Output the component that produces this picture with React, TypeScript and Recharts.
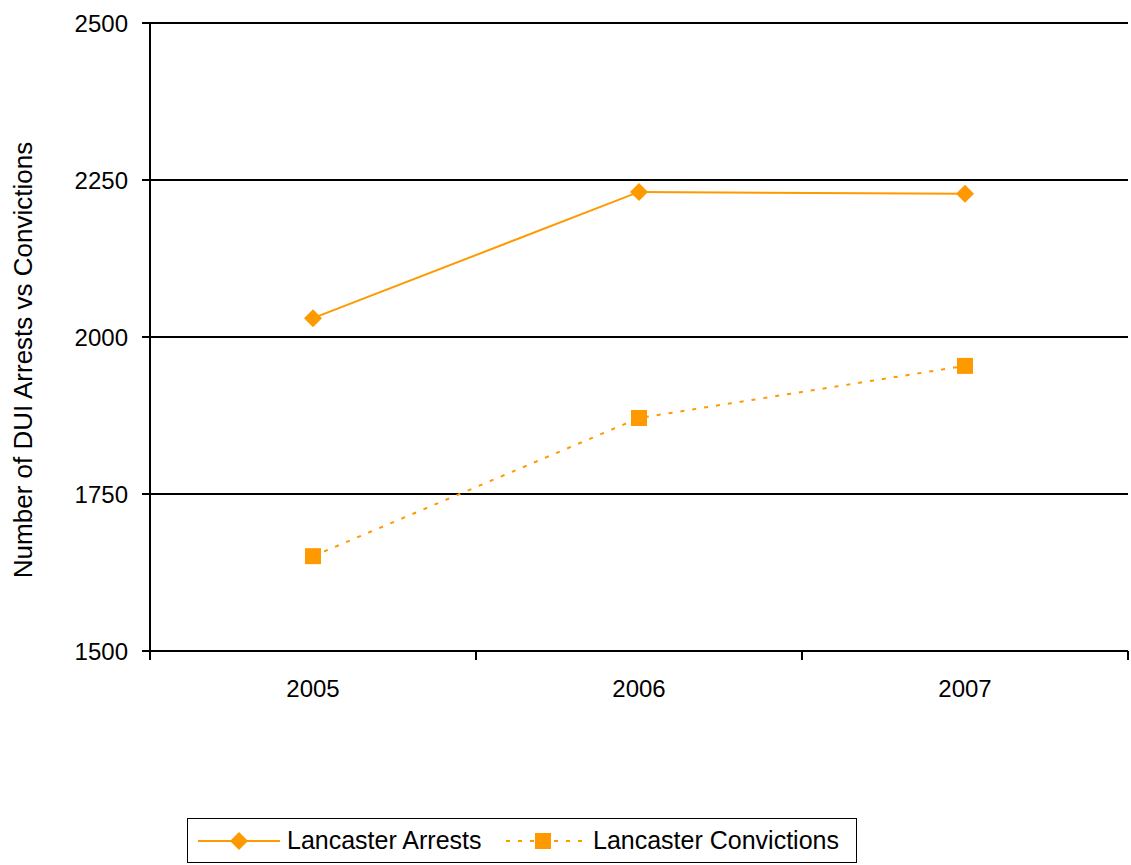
import { LineChart, Line, XAxis, YAxis, CartesianGrid } from "recharts";

const YEARS = ["2005", "2006", "2007"];
const ARRESTS = [2030, 2231, 2228];
const CONVICTIONS = [1651, 1871, 1954];
const Y_TICKS = [1500, 1750, 2000, 2250, 2500];

const ORANGE = "#FF9900";
const FONT = "'Liberation Sans', Arial, sans-serif";

const W = 1131;
const H = 865;
const MARGIN = { top: 23, right: 3, left: 0, bottom: 154 };
const Y_AXIS_W = 150;
const BAND = (W - Y_AXIS_W - MARGIN.right) / YEARS.length;

const data = YEARS.map((year, i) => ({
  year,
  arrests: ARRESTS[i],
  convictions: CONVICTIONS[i],
}));

// eslint-disable-next-line @typescript-eslint/no-explicit-any
function Diamond({ cx, cy }: any) {
  if (cx == null || cy == null) return null;
  const r = 9;
  return (
    <path
      d={`M${cx},${cy - r} L${cx + r},${cy} L${cx},${cy + r} L${cx - r},${cy} Z`}
      fill={ORANGE}
    />
  );
}

// eslint-disable-next-line @typescript-eslint/no-explicit-any
function Square({ cx, cy }: any) {
  if (cx == null || cy == null) return null;
  return <rect x={cx - 8} y={cy - 8} width={16} height={16} fill={ORANGE} />;
}

// year label in the middle of its band, tick marks on the band edges
// eslint-disable-next-line @typescript-eslint/no-explicit-any
function YearTick({ x, y, payload, index }: any) {
  const last = index === YEARS.length - 1;
  return (
    <g>
      <line x1={x - BAND / 2} y1={y} x2={x - BAND / 2} y2={y + 9} stroke="#000" strokeWidth={2} />
      {last && (
        <line x1={x + BAND / 2} y1={y} x2={x + BAND / 2} y2={y + 9} stroke="#000" strokeWidth={2} />
      )}
      <text x={x} y={y + 46} textAnchor="middle" fill="#000" fontSize={24} fontFamily={FONT}>
        {payload.value}
      </text>
    </g>
  );
}

// eslint-disable-next-line @typescript-eslint/no-explicit-any
function YTitle({ viewBox }: any) {
  const cy = viewBox ? viewBox.y + viewBox.height / 2 + 23 : 360;
  return (
    <text
      x={23}
      y={cy}
      transform={`rotate(-90, 23, ${cy})`}
      textAnchor="middle"
      dominantBaseline="central"
      fontSize={26}
      fontFamily={FONT}
      fill="#000"
    >
      Number of DUI Arrests vs Convictions
    </text>
  );
}

function LegendBox() {
  return (
    <div
      style={{
        position: "absolute",
        left: 187,
        top: 818,
        width: 668,
        height: 43,
        border: "1.5px solid #000",
        display: "flex",
        alignItems: "center",
        fontFamily: FONT,
        fontSize: 25,
        color: "#000",
        boxSizing: "content-box",
      }}
    >
      <svg width={99} height={30} style={{ display: "block" }}>
        <line x1={10} y1={15} x2={92} y2={15} stroke={ORANGE} strokeWidth={2} />
        <Diamond cx={51} cy={15} />
      </svg>
      <span style={{ width: 213 }}>Lancaster Arrests</span>
      <svg width={93} height={30} style={{ display: "block" }}>
        <line x1={6} y1={15} x2={86} y2={15} stroke={ORANGE} strokeWidth={2} strokeDasharray="4 8" />
        <Square cx={43} cy={15} />
      </svg>
      <span>Lancaster Convictions</span>
    </div>
  );
}

export default function App() {
  return (
    <div style={{ position: "absolute", left: 0, top: 0, width: W, height: H, background: "#fff" }}>
      <LineChart width={W} height={H} data={data} margin={MARGIN} style={{ fontFamily: FONT }}>
        <CartesianGrid vertical={false} stroke="#000" strokeWidth={2} />
        <XAxis
          dataKey="year"
          scale="band"
          height={60}
          axisLine={{ stroke: "#000", strokeWidth: 2 }}
          tickLine={false}
          tickSize={0}
          tickMargin={0}
          tick={<YearTick />}
          interval={0}
        />
        <YAxis
          width={Y_AXIS_W}
          domain={[1500, 2500]}
          ticks={Y_TICKS}
          interval={0}
          axisLine={{ stroke: "#000", strokeWidth: 2 }}
          tickLine={{ stroke: "#000", strokeWidth: 2 }}
          tickSize={8}
          tickMargin={14}
          tick={{ fill: "#000", fontSize: 24, fontFamily: FONT }}
          label={{ content: <YTitle /> }}
        />
        <Line
          dataKey="arrests"
          type="linear"
          stroke={ORANGE}
          strokeWidth={2}
          dot={<Diamond />}
          activeDot={false}
          isAnimationActive={false}
        />
        <Line
          dataKey="convictions"
          type="linear"
          stroke={ORANGE}
          strokeWidth={2}
          strokeDasharray="4 8"
          dot={<Square />}
          activeDot={false}
          isAnimationActive={false}
        />
      </LineChart>
      <LegendBox />
    </div>
  );
}
